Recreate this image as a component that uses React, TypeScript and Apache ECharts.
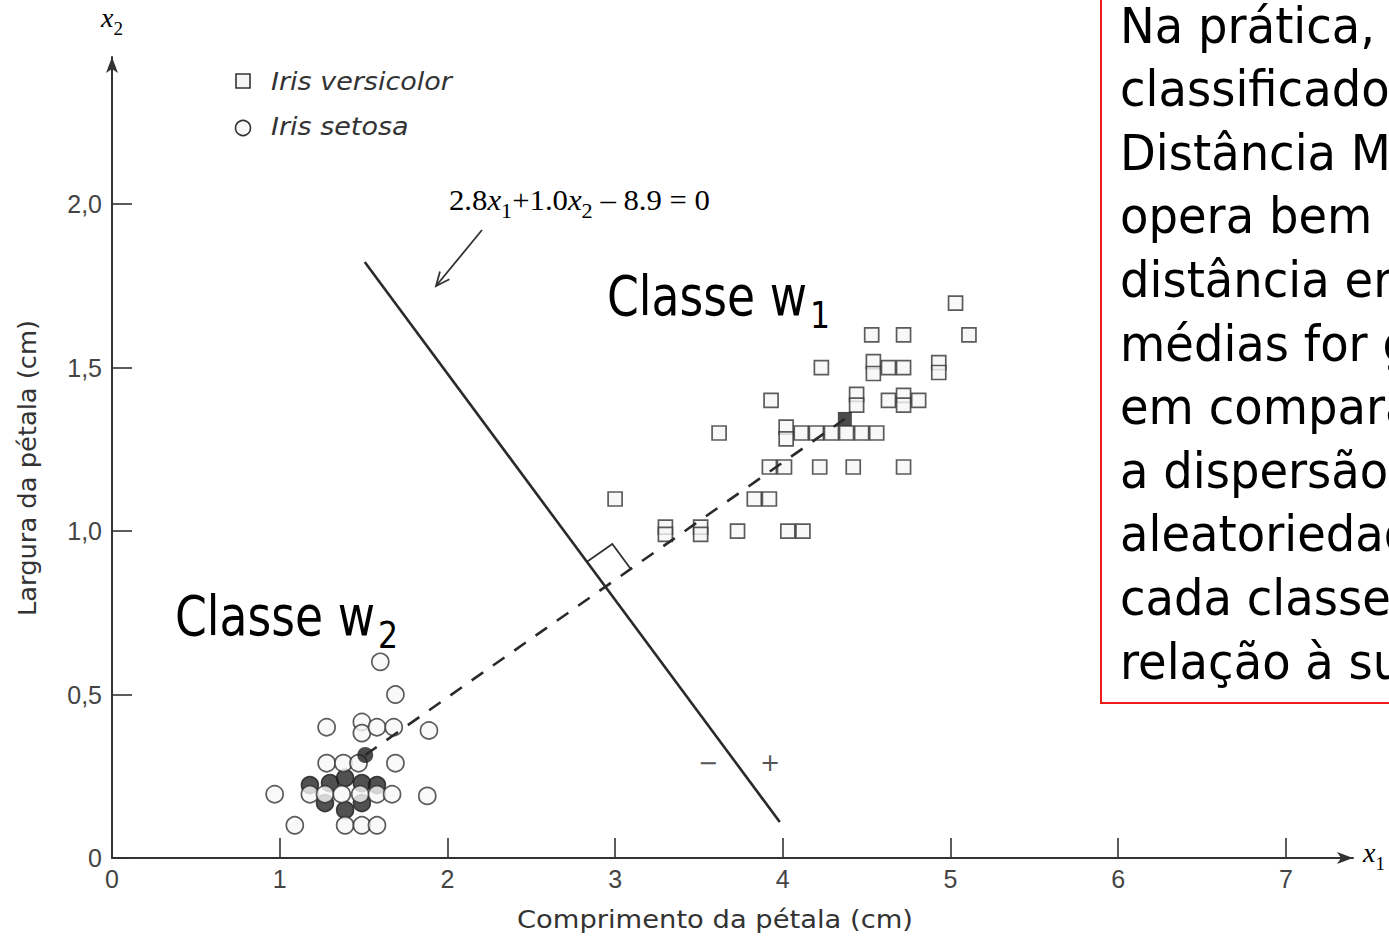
import React, { useEffect, useRef } from "react";
import * as echarts from "echarts";

// Axis ticks
const xTickValues = [0, 1, 2, 3, 4, 5, 6, 7];
const yTickValues = [0, 0.5, 1, 1.5, 2];

// Iris setosa samples: [petal length, petal width] in cm
const setosaPoints: number[][] = [
  [1.6, 0.6],
  [1.69, 0.5],
  [1.28, 0.4], [1.49, 0.416], [1.49, 0.382], [1.58, 0.4], [1.68, 0.4], [1.89, 0.39],
  [1.28, 0.29], [1.38, 0.29], [1.47, 0.29], [1.69, 0.29],
  [0.97, 0.195], [1.18, 0.195], [1.27, 0.195], [1.37, 0.195], [1.48, 0.195], [1.58, 0.195], [1.67, 0.195], [1.88, 0.19],
  [1.09, 0.1], [1.39, 0.1], [1.49, 0.1], [1.58, 0.1],
];

// Coincident setosa samples stacked under the 0.2 row (dark overlap)
const setosaStacked: number[][] = [
  [1.18, 0.223], [1.3, 0.229], [1.39, 0.245], [1.49, 0.229], [1.58, 0.223],
  [1.27, 0.168], [1.39, 0.147], [1.49, 0.168],
];

// Iris versicolor samples: [petal length, petal width] in cm
const versicolorPoints: number[][] = [
  [5.03, 1.697],
  [4.53, 1.6], [4.72, 1.6], [5.11, 1.6],
  [4.23, 1.5], [4.54, 1.518], [4.54, 1.482], [4.63, 1.5], [4.72, 1.5], [4.93, 1.515], [4.93, 1.485],
  [3.93, 1.4], [4.44, 1.418], [4.44, 1.385], [4.63, 1.4], [4.72, 1.415], [4.72, 1.385], [4.81, 1.4],
  [3.62, 1.3], [4.02, 1.318], [4.02, 1.282], [4.11, 1.3], [4.2, 1.3], [4.29, 1.3], [4.38, 1.3], [4.47, 1.3], [4.56, 1.3],
  [3.92, 1.196], [4.01, 1.196], [4.22, 1.196], [4.42, 1.196], [4.72, 1.196],
  [3.0, 1.098], [3.83, 1.098], [3.92, 1.098],
  [3.3, 1.012], [3.3, 0.99], [3.51, 1.012], [3.51, 0.99], [3.73, 1.0], [4.03, 1.0], [4.12, 1.0],
];

// Class means and the separating boundary
const setosaMean = [1.51, 0.315];
const versicolorMean = [4.37, 1.343];
const boundaryLine: number[][] = [[1.507, 1.823], [3.982, 0.11]];

// Side note text, one entry per line
const noteLines = [
  "Na prática, o",
  "classificador de",
  "Distância Mínima",
  "opera bem se a",
  "distância entre as",
  "médias for grande",
  "em comparação com",
  "a dispersão ou",
  "aleatoriedade de",
  "cada classe em",
  "relação à sua média.",
];

const INK = "#2a2a2a";
const SANS = "DejaVu Sans";
const TICK_FONT = "Liberation Sans";
const SERIF = "Liberation Serif";

const fmtY = (v: number) => (v === 0 ? "0" : v.toFixed(1).replace(".", ","));

const baseOption: any = {
  animation: false,
  backgroundColor: "#ffffff",
  grid: { left: 112, right: 36, top: 57, bottom: 82 },
  xAxis: {
    type: "value",
    min: 0,
    max: 7.4,
    interval: 1,
    splitLine: { show: false },
    axisLine: {
      show: true,
      onZero: false,
      symbol: ["none", "arrow"],
      symbolSize: [9, 16],
      lineStyle: { color: "#333", width: 2 },
    },
    axisTick: {
      show: true,
      inside: true,
      length: 20,
      customValues: xTickValues,
      lineStyle: { color: "#333", width: 1.6 },
    },
    axisLabel: {
      customValues: xTickValues,
      margin: 8,
      fontFamily: TICK_FONT,
      fontSize: 25,
      color: "#444",
      formatter: (v: number) => String(v),
    },
  },
  yAxis: {
    type: "value",
    min: 0,
    max: 2.45,
    interval: 0.5,
    splitLine: { show: false },
    axisLine: {
      show: true,
      onZero: false,
      symbol: ["none", "arrow"],
      symbolSize: [9, 16],
      lineStyle: { color: "#333", width: 2 },
    },
    axisTick: {
      show: true,
      inside: true,
      length: 20,
      customValues: yTickValues,
      lineStyle: { color: "#333", width: 1.6 },
    },
    axisLabel: {
      customValues: yTickValues,
      margin: 10,
      fontFamily: TICK_FONT,
      fontSize: 25,
      color: "#444",
      formatter: fmtY,
    },
  },
  series: [
    {
      name: "setosa-stack",
      type: "scatter",
      symbol: "circle",
      symbolSize: 17,
      itemStyle: { color: "#262626", borderColor: "#1a1a1a", borderWidth: 1.5 },
      data: setosaStacked,
    },
    {
      name: "Iris setosa",
      type: "scatter",
      symbol: "circle",
      symbolSize: 17,
      itemStyle: { color: "#f8f8f8", borderColor: "#333", borderWidth: 1.7 },
      data: setosaPoints,
    },
    {
      name: "Iris versicolor",
      type: "scatter",
      symbol: "rect",
      symbolSize: 14,
      itemStyle: { color: "#f6f6f6", borderColor: "#333", borderWidth: 1.7 },
      data: versicolorPoints,
    },
    {
      name: "boundary",
      type: "line",
      symbol: "none",
      lineStyle: { color: INK, width: 2.6 },
      data: boundaryLine,
    },
    {
      name: "means",
      type: "line",
      symbol: "none",
      lineStyle: { color: INK, width: 2.6, type: [14, 12] },
      data: [setosaMean, versicolorMean],
    },
    {
      name: "setosa mean",
      type: "scatter",
      symbol: "circle",
      symbolSize: 16,
      itemStyle: { color: "#1e1e1e" },
      data: [setosaMean],
    },
    {
      name: "versicolor mean",
      type: "scatter",
      symbol: "rect",
      symbolSize: 14,
      itemStyle: { color: "#1e1e1e" },
      data: [versicolorMean],
    },
  ],
};

function text(x: number, y: number, style: any, extra: any = {}) {
  return { type: "text", x, y, silent: true, ...extra, style: { fill: "#111", ...style } };
}

// Text with a subscript, built from rich tokens
function subText(x: number, y: number, main: string, sub: string, fs: number, subFs: number, family: string, italicMain: boolean, extra: any = {}) {
  const lh = Math.round(fs * 1.5);
  return {
    type: "text",
    x,
    y,
    silent: true,
    ...extra,
    style: {
      text: `{m|${main}}{s|${sub}}`,
      verticalAlign: "top",
      align: "left",
      rich: {
        m: { fontFamily: family, fontSize: fs, fontStyle: italicMain ? "italic" : "normal", lineHeight: lh, verticalAlign: "middle", color: "#222" },
        s: { fontFamily: family, fontSize: subFs, lineHeight: subFs, verticalAlign: "bottom", color: "#222" },
      },
    },
  };
}

function buildGraphics(chart: any) {
  const px = (p: number[]) => chart.convertToPixel({ gridIndex: 0 }, p) as number[];

  // right-angle marker where the boundary meets the line joining the means
  const a1 = px(boundaryLine[0]);
  const a2 = px(boundaryLine[1]);
  const b1 = px(setosaMean);
  const b2 = px(versicolorMean);
  const d1 = [a2[0] - a1[0], a2[1] - a1[1]];
  const d2 = [b2[0] - b1[0], b2[1] - b1[1]];
  const den = d1[0] * d2[1] - d1[1] * d2[0];
  const t = ((b1[0] - a1[0]) * d2[1] - (b1[1] - a1[1]) * d2[0]) / den;
  const I = [a1[0] + t * d1[0], a1[1] + t * d1[1]];
  const norm = (v: number[]) => {
    const l = Math.hypot(v[0], v[1]);
    return [v[0] / l, v[1] / l];
  };
  const u = norm([a1[0] - I[0], a1[1] - I[1]]);
  const v = norm([b2[0] - I[0], b2[1] - I[1]]);
  const s = 31;
  const corner = [
    [I[0] + u[0] * s, I[1] + u[1] * s],
    [I[0] + u[0] * s + v[0] * s, I[1] + u[1] * s + v[1] * s],
    [I[0] + v[0] * s, I[1] + v[1] * s],
  ];

  // leader arrow for the boundary equation
  const arrowFrom = [482, 230];
  const arrowTo = [436, 286];
  const back = norm([arrowFrom[0] - arrowTo[0], arrowFrom[1] - arrowTo[1]]);
  const rot = (w: number[], ang: number) => [w[0] * Math.cos(ang) - w[1] * Math.sin(ang), w[0] * Math.sin(ang) + w[1] * Math.cos(ang)];
  const h1 = rot(back, 0.42);
  const h2 = rot(back, -0.42);
  const hl = 15;

  const g: any[] = [];

  g.push({
    type: "polyline",
    silent: true,
    shape: { points: corner },
    style: { stroke: "#333", lineWidth: 1.8, fill: "none" },
  });
  g.push({
    type: "line",
    silent: true,
    shape: { x1: arrowFrom[0], y1: arrowFrom[1], x2: arrowTo[0], y2: arrowTo[1] },
    style: { stroke: "#333", lineWidth: 1.8 },
  });
  g.push({
    type: "polyline",
    silent: true,
    shape: {
      points: [
        [arrowTo[0] + h1[0] * hl, arrowTo[1] + h1[1] * hl],
        arrowTo,
        [arrowTo[0] + h2[0] * hl, arrowTo[1] + h2[1] * hl],
      ],
    },
    style: { stroke: "#333", lineWidth: 1.8, fill: "none" },
  });

  // boundary equation
  g.push({
    type: "text",
    x: 449,
    y: 178,
    scaleX: 1.06,
    silent: true,
    style: {
      text: "{n|2.8}{i|x}{s|1}{n|+1.0}{i|x}{s|2}{n| – 8.9 = 0}",
      verticalAlign: "top",
      rich: {
        n: { fontFamily: SERIF, fontSize: 29, lineHeight: 44, verticalAlign: "middle", color: "#333" },
        i: { fontFamily: SERIF, fontSize: 29, fontStyle: "italic", lineHeight: 44, verticalAlign: "middle", color: "#333" },
        s: { fontFamily: SERIF, fontSize: 21, lineHeight: 21, verticalAlign: "bottom", color: "#333" },
      },
    },
  });

  // legend
  g.push({
    type: "rect",
    silent: true,
    shape: { x: 236, y: 74, width: 14, height: 14 },
    style: { fill: "#f6f6f6", stroke: "#333", lineWidth: 1.6 },
  });
  g.push({
    type: "circle",
    silent: true,
    shape: { cx: 243, cy: 128, r: 7.5 },
    style: { fill: "#f8f8f8", stroke: "#333", lineWidth: 1.6 },
  });
  g.push(text(271, 81, { text: "Iris versicolor", fontFamily: SANS, fontStyle: "italic", fontSize: 25, fill: "#333", verticalAlign: "middle" }, { scaleX: 1.08 }));
  g.push(text(271, 126, { text: "Iris setosa", fontFamily: SANS, fontStyle: "italic", fontSize: 25, fill: "#333", verticalAlign: "middle" }, { scaleX: 1.08 }));

  // class labels
  g.push(text(607, 296, { text: "Classe w", fontFamily: SANS, fontSize: 55, fill: "#000", verticalAlign: "middle" }, { scaleX: 0.83 }));
  g.push(text(810, 315, { text: "1", fontFamily: SANS, fontSize: 38, fill: "#000", verticalAlign: "middle" }, { scaleX: 0.83 }));
  g.push(text(175, 616, { text: "Classe w", fontFamily: SANS, fontSize: 55, fill: "#000", verticalAlign: "middle" }, { scaleX: 0.83 }));
  g.push(text(378, 635, { text: "2", fontFamily: SANS, fontSize: 38, fill: "#000", verticalAlign: "middle" }, { scaleX: 0.83 }));

  // side markers of the boundary
  g.push(text(708, 763, { text: "−", fontFamily: SANS, fontSize: 24, fill: "#555", align: "center", verticalAlign: "middle" }));
  g.push(text(770, 763, { text: "+", fontFamily: SANS, fontSize: 24, fill: "#555", align: "center", verticalAlign: "middle" }));

  // axis names
  g.push(text(715, 920, { text: "Comprimento da pétala (cm)", fontFamily: SANS, fontSize: 24, fill: "#333", align: "center", verticalAlign: "middle" }, { scaleX: 1.14 }));
  g.push(text(27, 468, { text: "Largura da pétala (cm)", fontFamily: SANS, fontSize: 25, fill: "#333", align: "center", verticalAlign: "middle" }, { rotation: Math.PI / 2, scaleX: 1.03 }));
  g.push(subText(101, -4, "x", "2", 28, 19, SERIF, true));
  g.push(subText(1363, 831, "x", "1", 28, 19, SERIF, true));

  // side note box
  g.push({
    type: "rect",
    silent: true,
    shape: { x: 1101, y: -10, width: 400, height: 713 },
    style: { fill: "#ffffff", stroke: "#ee1c1c", lineWidth: 2 },
  });
  noteLines.forEach((line, i) => {
    g.push(text(1120, 25 + 63.6 * i, { text: line, fontFamily: SANS, fontSize: 50, fill: "#000", verticalAlign: "middle" }, { scaleX: 0.93 }));
  });

  return g;
}

export default function App() {
  const ref = useRef<HTMLDivElement>(null);
  useEffect(() => {
    if (!ref.current) return;
    const chart = echarts.init(ref.current, null, { renderer: "svg" });
    chart.setOption(baseOption);
    chart.setOption({ graphic: buildGraphics(chart) });
    return () => chart.dispose();
  }, []);
  return (
    <div
      ref={ref}
      style={{ position: "absolute", left: 0, top: 0, width: 1389, height: 940, overflow: "hidden", background: "#fff" }}
    />
  );
}
